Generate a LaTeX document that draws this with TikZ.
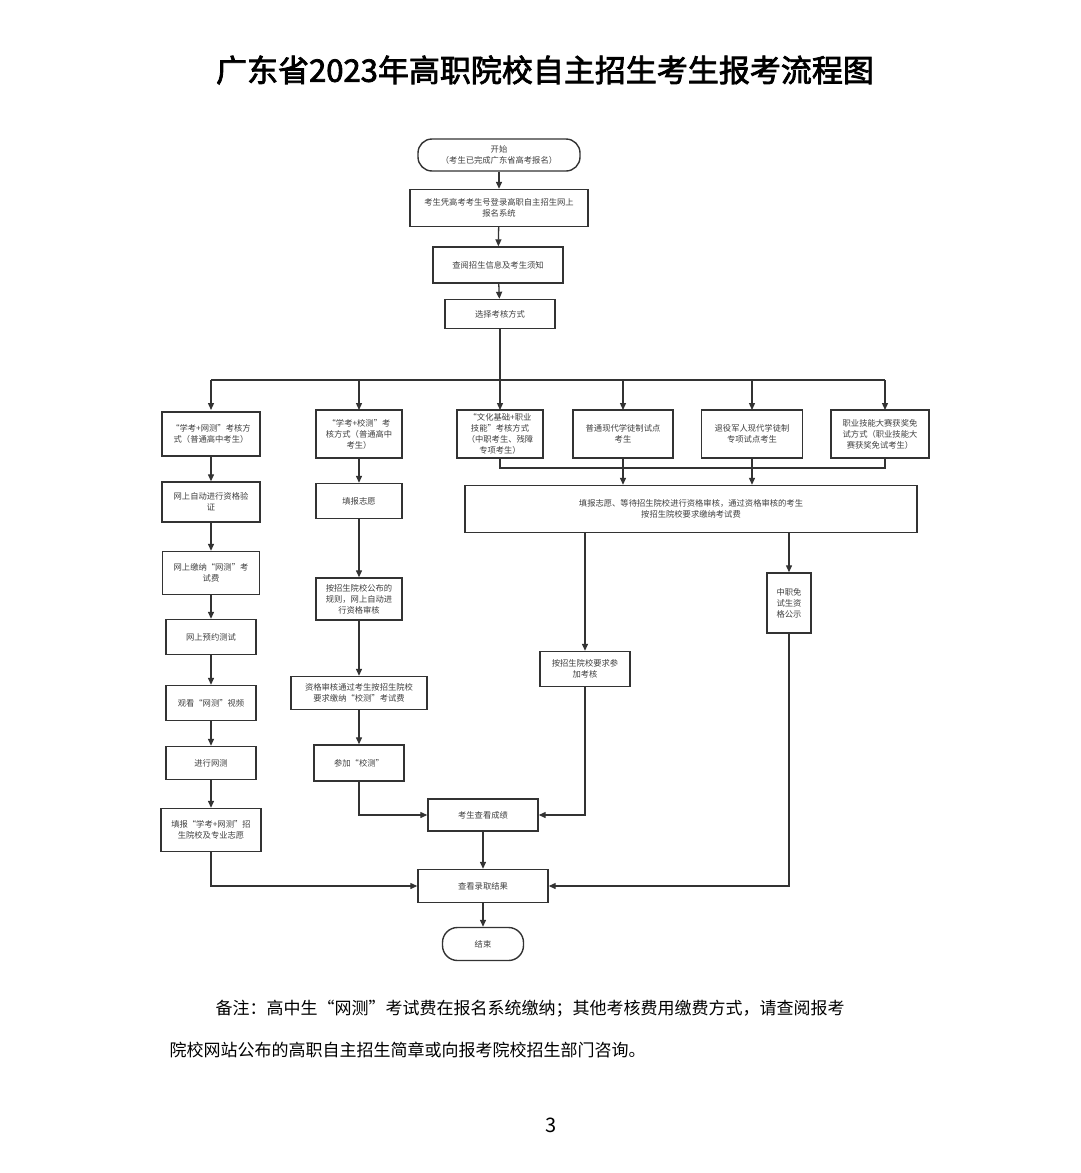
\documentclass[tikz,border=0pt]{standalone}
\usepackage{fontspec}
\setmainfont{Noto Sans CJK SC}
\newfontfamily\cjkb[AutoFakeBold=2.5]{Noto Sans CJK SC}
\usetikzlibrary{arrows.meta}
\begin{document}
\begin{tikzpicture}[x=1pt,y=-1pt,
  box/.style={draw=black!80,line width=1.4pt,align=center,font=\fontsize{8.3}{11}\selectfont,inner sep=1pt,text=black!75},
  rbox/.style={box,rounded corners=14pt},
  ar/.style={draw=black!80,line width=1.3pt,-{Triangle[length=7pt,width=6pt]}},
  ln/.style={draw=black!80,line width=1.3pt}]
\useasboundingbox[fill=white] (0,0) rectangle (1080,1173);
\node[font=\cjkb\fontsize{31}{34}\selectfont\bfseries] (title) at (545,70) {广东省2023年高职院校自主招生考生报考流程图};
\node[rbox,minimum width=162,minimum height=32] (s) at (499,155) {开始\\（考生已完成广东省高考报名）};
\node[box,minimum width=178,minimum height=37] (b1) at (499,208) {考生凭高考考生号登录高职自主招生网上\\报名系统};
\node[box,minimum width=130,minimum height=36] (b2) at (498,265) {查阅招生信息及考生须知};
\node[box,minimum width=110,minimum height=29] (b3) at (500,314) {选择考核方式};
\draw[ar] (s) -- (b1); \draw[ar] (b1) -- (b2); \draw[ar] (b2) -- (b3);
\node[box,minimum width=98,minimum height=44] (c1) at (211,434) {“学考+网测”考核方\\式（普通高中考生）};
\node[box,minimum width=86,minimum height=48] (c2) at (359,434) {“学考+校测”考\\核方式（普通高中\\考生）};
\node[box,minimum width=86,minimum height=48] (c3) at (500,434) {“文化基础+职业\\技能”考核方式\\（中职考生、残障\\专项考生）};
\node[box,minimum width=100,minimum height=48] (c4) at (623,434) {普通现代学徒制试点\\考生};
\node[box,minimum width=101,minimum height=48] (c5) at (752,434) {退役军人现代学徒制\\专项试点考生};
\node[box,minimum width=98,minimum height=48] (c6) at (880,434) {职业技能大赛获奖免\\试方式（职业技能大\\赛获奖免试考生）};
\coordinate (hl) at (211,380); \coordinate (hr) at (885,380);
\draw[ln] (b3.south) -- (500,380);
\draw[ln] (hl) -- (hr);
\foreach \n/\x in {c1/211,c2/359,c3/500,c4/623,c5/752,c6/885} \draw[ar] (\x,380) -- (\x,410);
\node[box,minimum width=452,minimum height=47] (big) at (691,509) {填报志愿、等待招生院校进行资格审核，通过资格审核的考生\\按招生院校要求缴纳考试费};
\draw[ln] (c3.south) -- (500,468) -- (885,468) -- (885,458);
\draw[ar] (c4.south) -- (c4.south|-big.north);
\draw[ar] (c5.south) -- (c5.south|-big.north);
\node[box,minimum width=90,minimum height=35] (d1) at (585,669) {按招生院校要求参\\加考核};
\node[box,minimum width=44,minimum height=60] (e1) at (789,603) {中职免\\试生资\\格公示};
\draw[ar] (585,533) -- (d1.north);
\draw[ar] (789,533) -- (e1.north);
\node[box,minimum width=98,minimum height=40] (l1) at (211,502) {网上自动进行资格验\\证};
\node[box,minimum width=97,minimum height=43] (l2) at (211,573) {网上缴纳“网测”考\\试费};
\node[box,minimum width=90,minimum height=35] (l3) at (211,637) {网上预约测试};
\node[box,minimum width=90,minimum height=35] (l4) at (211,703) {观看“网测”视频};
\node[box,minimum width=90,minimum height=33] (l5) at (211,763) {进行网测};
\node[box,minimum width=100,minimum height=43] (l6) at (211,830) {填报“学考+网测”招\\生院校及专业志愿};
\draw[ar] (c1) -- (l1); \draw[ar] (l1) -- (l2); \draw[ar] (l2) -- (l3); \draw[ar] (l3) -- (l4); \draw[ar] (l4) -- (l5); \draw[ar] (l5) -- (l6);
\node[box,minimum width=86,minimum height=35] (m1) at (359,501) {填报志愿};
\node[box,minimum width=86,minimum height=42] (m2) at (359,599) {按招生院校公布的\\规则，网上自动进\\行资格审核};
\node[box,minimum width=136,minimum height=33] (m3) at (359,693) {资格审核通过考生按招生院校\\要求缴纳“校测”考试费};
\node[box,minimum width=90,minimum height=36] (m4) at (359,763) {参加“校测”};
\draw[ar] (c2) -- (m1); \draw[ar] (m1) -- (m2); \draw[ar] (m2) -- (m3); \draw[ar] (m3) -- (m4);
\node[box,minimum width=110,minimum height=32] (f1) at (483,815) {考生查看成绩};
\node[box,minimum width=130,minimum height=33] (g1) at (483,886) {查看录取结果};
\node[rbox,minimum width=81,minimum height=33,rounded corners=15pt] (e) at (483,944) {结束};
\draw[ar] (m4.south) |- (f1.west);
\draw[ar] (d1.south) |- (f1.east);
\draw[ar] (f1) -- (g1);
\draw[ar] (l6.south) |- (g1.west);
\draw[ar] (e1.south) |- (g1.east);
\draw[ar] (g1) -- (e);
\node[anchor=west,font=\fontsize{17}{20}\selectfont] (n1) at (212,1009) {备注：高中生“网测”考试费在报名系统缴纳；其他考核费用缴费方式，请查阅报考};
\node[anchor=west,font=\fontsize{17}{20}\selectfont] (n2) at (166,1050) {院校网站公布的高职自主招生简章或向报考院校招生部门咨询。};
\node[font=\fontsize{20}{22}\selectfont] (p) at (551,1125) {3};
\end{tikzpicture}
\end{document}
